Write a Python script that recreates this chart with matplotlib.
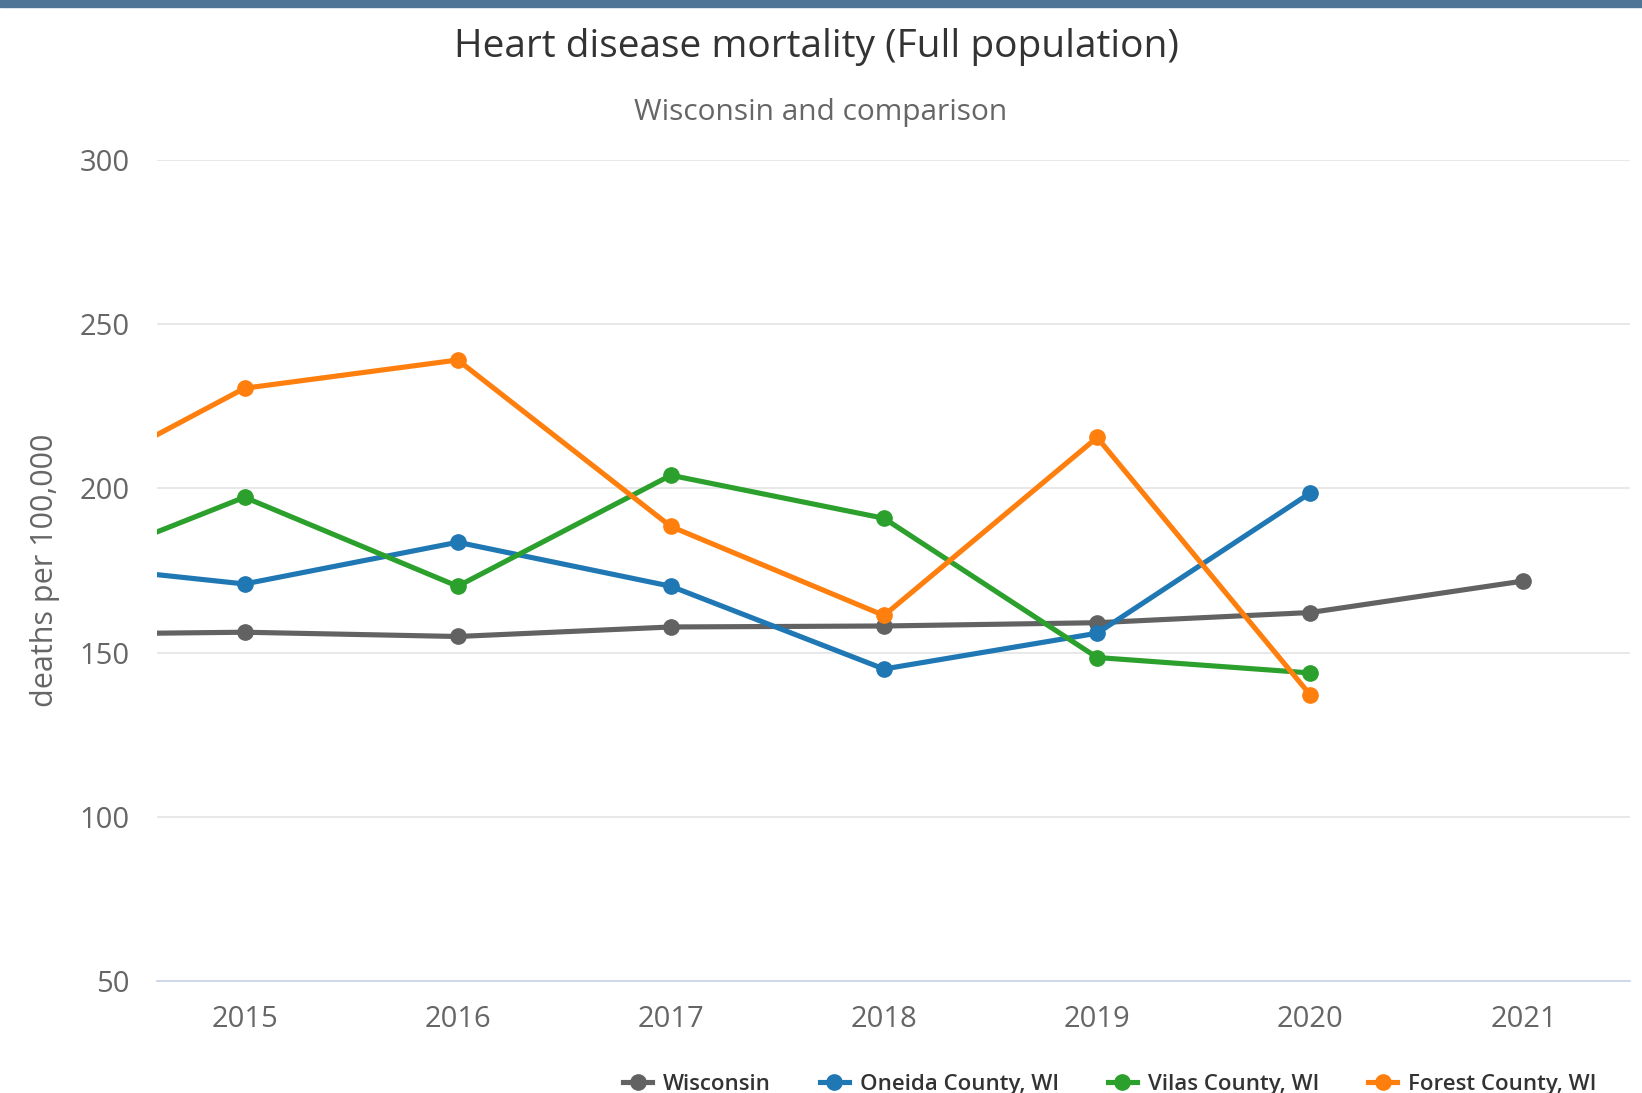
import matplotlib.pyplot as plt
from matplotlib.patches import Rectangle

plt.rcParams['font.family'] = ['Open Sans', 'DejaVu Sans']

years = [2014, 2015, 2016, 2017, 2018, 2019, 2020, 2021]

# deaths per 100,000 (None = no data for that year)
wisconsin = [155.5, 156.2, 154.9, 157.8, 158.1, 159.1, 162.2, 171.8]
oneida = [177.8, 170.9, 183.6, 170.2, 145.0, 155.9, 198.6, None]
vilas = [171.6, 197.3, 170.2, 204.0, 190.9, 148.5, 143.8, None]
forest = [196.0, 230.5, 239.1, 188.4, 161.3, 215.5, 137.1, None]

series_names = ["Wisconsin", "Oneida County, WI", "Vilas County, WI", "Forest County, WI"]
series_colors = ["#626262", "#1f77b4", "#2ca02c", "#ff7f0e"]

fig = plt.figure(figsize=(16.42, 10.93), dpi=100)
ax = fig.add_axes([0.0957, 0.1025, 0.897, 0.7511])

# band across the top of the page
fig.patches.append(Rectangle((0, 0.9935), 1, 0.0065, transform=fig.transFigure,
                             color="#4f7596", zorder=5))

handles = []
for name, vals, col in zip(series_names, [wisconsin, oneida, vilas, forest], series_colors):
    xs = [x for x, v in zip(years, vals) if v is not None]
    ys = [v for v in vals if v is not None]
    h, = ax.plot(xs, ys, "-o", color=col, lw=3.7, ms=11, label=name, zorder=3)
    handles.append(h)

ax.set_xlim(2014.59, 2021.5)
ax.set_ylim(50, 300)
ax.set_yticks([50, 100, 150, 200, 250, 300])
ax.set_xticks(years[1:])
ax.grid(axis="y", color="#e6e6e6", lw=1.3)
ax.set_axisbelow(True)
for s in ["top", "right", "left"]:
    ax.spines[s].set_visible(False)
ax.spines["bottom"].set_color("#ccd6eb")
ax.spines["bottom"].set_linewidth(1.3)
ax.tick_params(axis="both", length=0, labelsize=21, colors="#666666")
ax.tick_params(axis="x", pad=17)
ax.tick_params(axis="y", pad=20)
ax.set_ylabel("deaths per 100,000", fontsize=22, color="#666666", labelpad=14)

fig.text(0.4975, 0.957, "Heart disease mortality (Full population)", ha="center", va="center",
         fontsize=28, color="#333333")
fig.text(0.4995, 0.897, "Wisconsin and comparison", ha="center", va="center",
         fontsize=21.5, color="#666666")

fig.legend(handles=handles, loc="center", bbox_to_anchor=(0.676, 0.008), ncol=4,
           frameon=False, handlelength=1.3, columnspacing=2.2, handletextpad=0.5,
           prop={"weight": "semibold", "size": 16})
for t in fig.legends[0].get_texts():
    t.set_color("#333333")

fig.savefig("out.png", dpi=100)
